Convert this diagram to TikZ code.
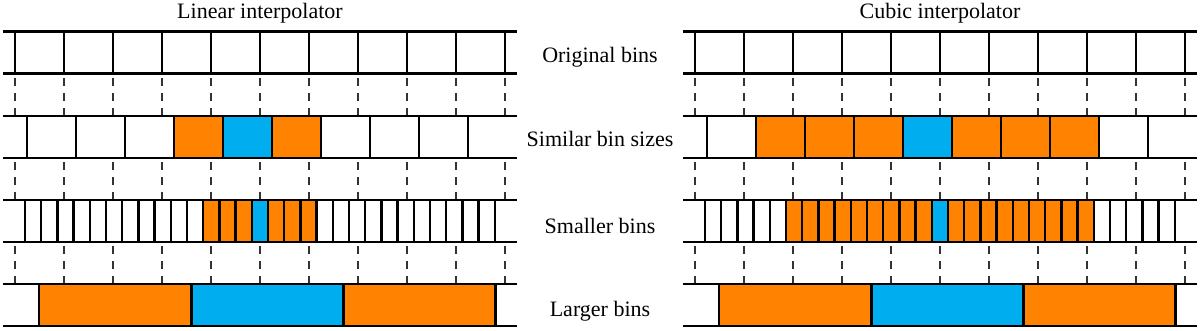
\documentclass[tikz,border=0pt]{standalone}
\usepackage{fontspec}
\setmainfont{Liberation Serif}
\definecolor{binorange}{RGB}{255,130,0}
\definecolor{binblue}{RGB}{0,174,239}
\begin{document}
\begin{tikzpicture}[x=1pt,y=-1pt,
  binline/.style={line width=2.3pt,draw=black},
  guide/.style={line width=1.2pt,draw=black!80,dash pattern=on 8pt off 7pt},
  lbl/.style={font=\fontsize{22}{26}\selectfont,anchor=base,inner sep=0pt},
  ofill/.style={fill=binorange},
  bfill/.style={fill=binblue}]
\useasboundingbox (0,0) rectangle (1200,330);

% row tops: 31.5, 115.7, 199.9, 284.1 ; height 42
\foreach \ox/\ra/\rb/\sa/\sb in {0/3/6/11/18, 680/1/8/5/24} {
  \begin{scope}[xshift=\ox pt]
    % similar bins fills
    \fill[ofill] (27+49*\ra,115.7) rectangle (27+49*4,157.7);
    \fill[bfill] (27+49*4,115.7) rectangle (27+49*5,157.7);
    \fill[ofill] (27+49*5,115.7) rectangle (27+49*\rb,157.7);
    % smaller bins fills
    \fill[ofill] (25+16.2*\sa,199.9) rectangle (25+16.2*14,241.9);
    \fill[bfill] (25+16.2*14,199.9) rectangle (25+16.2*15,241.9);
    \fill[ofill] (25+16.2*15,199.9) rectangle (25+16.2*\sb,241.9);
    % larger bins fills
    \fill[ofill] (39.3,284.1) rectangle (191.4,326.1);
    \fill[bfill] (191.4,284.1) rectangle (343.5,326.1);
    \fill[ofill] (343.5,284.1) rectangle (495.6,326.1);
    % dashed guides
    \foreach \k in {0,...,10} {
      \foreach \g in {0,1,2} {
        \draw[guide] (15+49*\k,115.7+84.2*\g) -- (15+49*\k,73.5+84.2*\g);
      }
    }
    % horizontal lines
    \foreach \t in {31.5,115.7,199.9,284.1} {
      \draw[binline] (3,\t) -- (517,\t);
      \draw[binline] (3,\t+42) -- (517,\t+42);
    }
    % vertical separators
    \foreach \k in {0,...,10} \draw[binline] (15+49*\k,31.5) -- ++(0,42);
    \foreach \k in {0,...,9} \draw[binline] (27+49*\k,115.7) -- ++(0,42);
    \foreach \k in {0,...,29} \draw[binline] (25+16.2*\k,199.9) -- ++(0,42);
    \foreach \k in {0,...,3} \draw[binline] (39.3+152.1*\k,284.1) -- ++(0,42);
  \end{scope}
}

\node[lbl] (titlelin) at (260,18) {Linear interpolator};
\node[lbl] (titlecub) at (940,18) {Cubic interpolator};
\node[lbl] (laborig) at (600,62) {Original bins};
\node[lbl] (labsim) at (600,146.5) {Similar bin sizes};
\node[lbl] (labsmall) at (600,233) {Smaller bins};
\node[lbl] (lablarge) at (600,316) {Larger bins};
\end{tikzpicture}
\end{document}
